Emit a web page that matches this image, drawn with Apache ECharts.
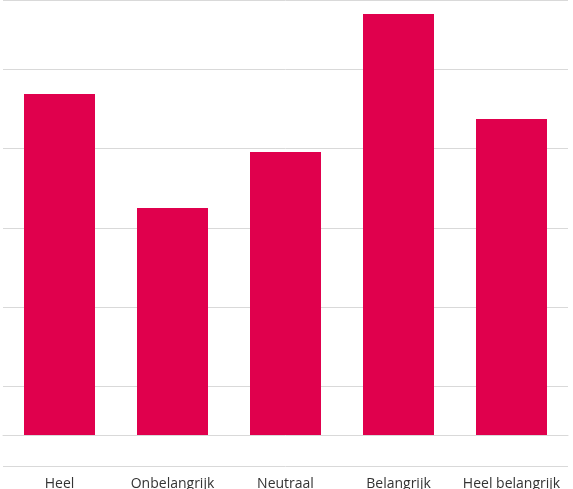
<!DOCTYPE html>
<html>
<head>
<meta charset="utf-8">
<script src="https://cdn.jsdelivr.net/npm/echarts@6/dist/echarts.min.js"></script>
<style>html,body{margin:0;padding:0;background:#fff}#chart{width:573px;height:489px}</style>
</head>
<body>
<div id="chart"></div>
<script>
var categories = ['Heel\nonbelangrijk', 'Onbelangrijk', 'Neutraal', 'Belangrijk', 'Heel belangrijk'];
var values = [341, 227, 283, 421, 316];

var chart = echarts.init(document.getElementById('chart'));
chart.setOption({
  animation: false,
  grid: { left: 3, right: 5, top: 0, bottom: 23, containLabel: false, outerBoundsMode: 'none' },
  xAxis: {
    type: 'category',
    data: categories,
    axisLine: { onZero: true, lineStyle: { color: '#d9d9d9' } },
    axisTick: { show: false },
    axisLabel: { interval: 0, color: '#333', fontSize: 14, fontFamily: 'Open Sans', lineHeight: 20, margin: 8 }
  },
  yAxis: [{
    type: 'value', min: -31, max: 435,
    axisLine: { show: false }, axisTick: { show: false }, axisLabel: { show: false },
    splitLine: { show: false }
  }, {
    type: 'value', min: 0, max: 466 / 79.4, interval: 1,
    axisLine: { show: false }, axisTick: { show: false }, axisLabel: { show: false },
    splitLine: { lineStyle: { color: '#d9d9d9' } }
  }],
  series: [{
    type: 'bar',
    data: values,
    barWidth: 71,
    itemStyle: { color: '#E0004D' }
  }]
});
</script>
</body>
</html>
